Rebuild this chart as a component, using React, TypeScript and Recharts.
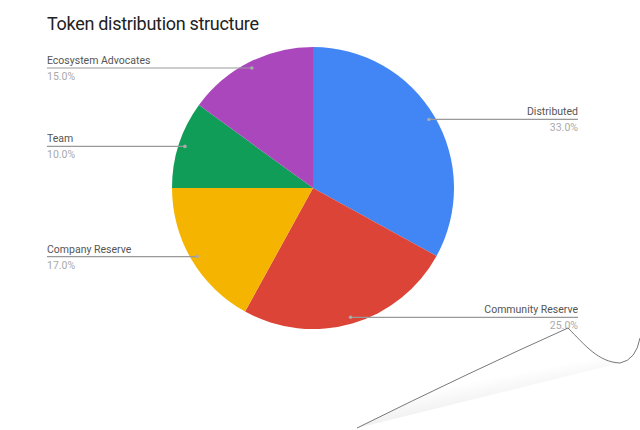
import { PieChart, Pie, Cell } from 'recharts'

const names = ['Distributed', 'Community Reserve', 'Company Reserve', 'Team', 'Ecosystem Advocates']
const shares = [33, 25, 17, 10, 15]
const colors = ['#4285f4', '#db4437', '#f4b400', '#0f9d58', '#ab47bc']

const data = names.map((name, i) => ({ name, value: shares[i] }))

const RAD = Math.PI / 180
const LEFT_X = 47
const RIGHT_X = 578

function SliceLabel(props: any) {
  const { cx, cy, midAngle, outerRadius, name, percent } = props
  const r = outerRadius * 0.955
  const x = cx + r * Math.cos(-midAngle * RAD)
  const y = cy + r * Math.sin(-midAngle * RAD)
  const right = x > cx
  const endX = right ? RIGHT_X : LEFT_X
  const anchor = right ? 'end' : 'start'
  return (
    <g>
      <line x1={x} y1={y} x2={endX} y2={y} stroke="#999" strokeWidth={1.2} />
      <circle cx={x} cy={y} r={1.8} fill="#aaa" />
      <text x={endX} y={y - 4} textAnchor={anchor} fontSize={10.5} fill="#555" fontFamily="Roboto">
        {name}
      </text>
      <text x={endX} y={y + 12} textAnchor={anchor} fontSize={10.5} fill="#aaa" fontFamily="Roboto">
        {(percent * 100).toFixed(1)}%
      </text>
    </g>
  )
}

export default function App() {
  return (
    <div style={{ position: 'absolute', left: 0, top: 0, width: 640, height: 430, background: '#fff', fontFamily: 'Roboto' }}>
      <div style={{ position: 'absolute', left: 47, top: 13, fontSize: 18, letterSpacing: -0.3, color: '#222', lineHeight: '22px' }}>
        Token distribution structure
      </div>
      <PieChart width={640} height={430}>
        <Pie
          data={data}
          dataKey="value"
          nameKey="name"
          cx={308}
          cy={183}
          outerRadius={141}
          startAngle={90}
          endAngle={-270}
          stroke="none"
          labelLine={false}
          label={SliceLabel}
          isAnimationActive={false}
        >
          {data.map((d, i) => (
            <Cell key={d.name} fill={colors[i]} />
          ))}
        </Pie>
      </PieChart>
      {/* page curl decoration */}
      <svg width={640} height={430} style={{ position: 'absolute', left: 0, top: 0, pointerEvents: 'none' }}>
        <defs>
          <linearGradient id="curl" x1="0.3" y1="0.2" x2="0.7" y2="1">
            <stop offset="0.4" stopColor="#ffffff" />
            <stop offset="1" stopColor="#dcdcdc" />
          </linearGradient>
        </defs>
        <path d="M357,428 Q470,372 568,328 C585,345 598,362 620,363 Z" fill="url(#curl)" stroke="none" />
        <path d="M357,428 Q470,372 568,328 C585,345 598,362 620,363 Q636,360 640,338" fill="none" stroke="#555" strokeWidth={0.8} />
      </svg>
    </div>
  )
}
